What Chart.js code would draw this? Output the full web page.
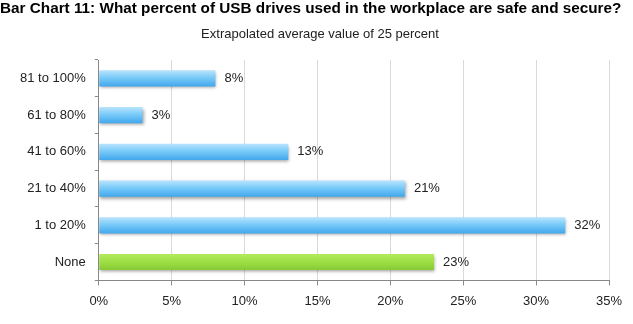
<!DOCTYPE html>
<html><head><meta charset="utf-8">
<script src="https://cdn.jsdelivr.net/npm/chart.js@4"></script>
<style>html,body{margin:0;padding:0;background:#fff}#wrap{width:633px;height:324px}</style>
</head><body><div id="wrap"><canvas id="c" width="633" height="324"></canvas></div>
<script>
const titleText = "Bar Chart 11: What percent of USB drives used in the workplace are safe and secure?";
const subtitleText = "Extrapolated average value of 25 percent";
const categories = ["81 to 100%", "61 to 80%", "41 to 60%", "21 to 40%", "1 to 20%", "None"];
const values = [8, 3, 13, 21, 32, 23];
const xTicks = [0, 5, 10, 15, 20, 25, 30, 35];
const FONT = "'Liberation Sans', Arial, sans-serif";

function barFill(ctx) {
  const chart = ctx.chart;
  const i = ctx.dataIndex;
  const ys = chart.scales.y;
  const green = categories[i] === "None";
  if (!ys || ys.getPixelForValue(i) === undefined || isNaN(ys.getPixelForValue(i))) return green ? "#9ddc45" : "#66bff5";
  const y = ys.getPixelForValue(i);
  const g = chart.ctx.createLinearGradient(0, y - 8, 0, y + 8);
  if (green) {
    g.addColorStop(0, "#b4ea5e"); g.addColorStop(0.5, "#9ddf44"); g.addColorStop(1, "#86c935");
  } else {
    g.addColorStop(0, "#b9e4fd"); g.addColorStop(0.45, "#7acbf9"); g.addColorStop(1, "#42a8ec");
  }
  return g;
}

const deco = {
  id: "deco",
  beforeDatasetsDraw(chart) {
    const c = chart.ctx;
    c.save();
    c.shadowColor = "rgba(0,0,0,0.35)";
    c.shadowOffsetX = 1; c.shadowOffsetY = 2; c.shadowBlur = 3;
  },
  afterDatasetsDraw(chart) {
    const c = chart.ctx;
    c.restore();
    const meta = chart.getDatasetMeta(0);
    c.save();
    c.font = "13px " + FONT;
    c.fillStyle = "#222";
    c.textBaseline = "middle";
    c.textAlign = "left";
    meta.data.forEach((bar, i) => {
      c.fillText(values[i] + "%", bar.x + 9, bar.y);
    });
    c.restore();
  },
  afterDraw(chart) {
    const c = chart.ctx;
    c.save();
    c.fillStyle = "#000";
    c.textBaseline = "middle";
    c.font = "bold 15.3px " + FONT;
    c.textAlign = "left";
    c.fillText(titleText, 0, 9);
    c.font = "13px " + FONT;
    c.fillStyle = "#222";
    c.textAlign = "center";
    c.fillText(subtitleText, 320, 34);
    c.restore();
  }
};

new Chart(document.getElementById("c"), {
  type: "bar",
  data: {
    labels: categories,
    datasets: [{ data: values, backgroundColor: barFill, barPercentage: 0.44, categoryPercentage: 1.0, borderWidth: 0 }]
  },
  options: {
    indexAxis: "y",
    responsive: false,
    animation: false,
    layout: { padding: { top: 60, right: 24, bottom: 7, left: 11 } },
    plugins: { legend: { display: false }, tooltip: { enabled: false }, title: { display: false } },
    scales: {
      x: {
        min: 0, max: 35,
        afterBuildTicks(axis) { axis.ticks = xTicks.map(v => ({ value: v })); },
        ticks: { callback: v => v + "%", font: { size: 13, family: FONT }, color: "#222", padding: 8, maxRotation: 0 },
        grid: { color: "#d9d9d9", tickLength: 5, tickColor: "#888" },
        border: { color: "#888", width: 1 }
      },
      y: {
        ticks: { font: { size: 13, family: FONT }, color: "#222", padding: 9 },
        grid: { drawOnChartArea: false, tickLength: 4, tickColor: "#888", offset: true },
        border: { color: "#888", width: 1 }
      }
    }
  },
  plugins: [deco]
});
</script>
</body></html>
